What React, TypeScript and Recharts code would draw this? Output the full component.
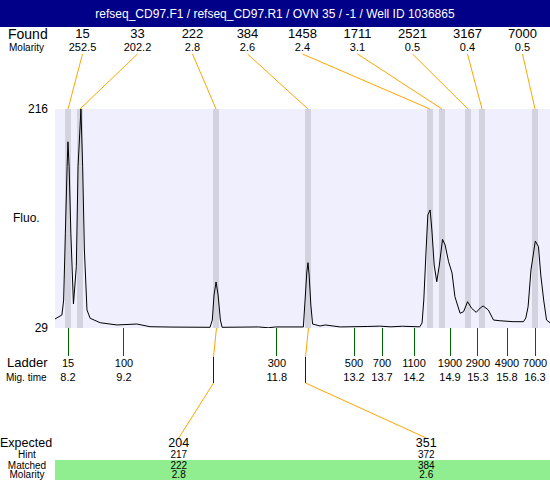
import React from 'react';
import { ComposedChart, Line, XAxis, YAxis, CartesianGrid, ReferenceLine } from 'recharts';

// electropherogram trace (migration time in min, fluorescence)
const migTime = [
  7.97, 8.09, 8.12, 8.15, 8.18, 8.195, 8.215, 8.245, 8.29, 8.34, 8.37, 8.42, 8.45, 8.48, 8.525, 8.58,
  8.755, 9.045, 9.39, 9.62, 10.0, 10.66, 10.7, 10.73, 10.765, 10.8, 10.84, 10.87, 11.5, 11.67, 11.8,
  12.28, 12.31, 12.34, 12.36, 12.38, 12.41, 12.44, 12.57, 12.66, 12.92, 13.4, 13.6, 13.8, 14.0, 14.3,
  14.34, 14.37, 14.41, 14.44, 14.48, 14.51, 14.55, 14.595, 14.64, 14.695, 14.74, 14.8, 14.86, 14.91,
  15.0, 15.06, 15.13, 15.2, 15.28, 15.35, 15.4, 15.49, 15.58, 15.69, 15.92, 16.1, 16.14, 16.18, 16.23,
  16.305, 16.36, 16.4, 16.45, 16.5, 16.56,
];
const fluo = [
  36.7, 40.1, 52.9, 110, 166.7, 188, 166.7, 110, 49.5, 81.4, 166.7, 216, 166.7, 95.6, 44.4, 37.3,
  33.5, 31.6, 32.4, 30.1, 29.8, 29.6, 35.8, 57.2, 68.3, 57.2, 35.8, 29.6, 29.9, 29.2, 29.9,
  29.9, 52.9, 76.8, 84.8, 74.3, 48.6, 32.4, 30.7, 31.6, 29.9, 30.3, 30.6, 30.0, 30.5, 30.0,
  33.3, 52.9, 95.6, 125.5, 129.8, 112.7, 82.8, 68.5, 82.8, 104.7, 99.9, 85.6, 76, 55.7,
  41.6, 42.9, 51.5, 45.8, 42.4, 46.1, 47.8, 44.4, 35.8, 35.2, 34.4, 34.4, 37.5, 47.2, 78.5,
  103.3, 98.4, 74.3, 52.9, 35.8, 33.5,
];

// found peaks
const peakTimes = [8.196, 8.404, 10.764, 12.36, 14.477, 14.686, 15.137, 15.38, 16.3];
const foundSizes = ['15', '33', '222', '384', '1458', '1711', '2521', '3167', '7000'];
const foundMolarity = ['252.5', '202.2', '2.8', '2.6', '2.4', '3.1', '0.5', '0.4', '0.5'];

// ladder
const ladderTimes = [8.196, 9.167, 11.82, 13.159, 13.645, 14.2, 14.825, 15.31, 15.814, 16.3];
const ladderSizes = ['15', '100', '300', '500', '700', '1100', '1900', '2900', '4900', '7000'];
const ladderTimeLabels = ['8.2', '9.2', '11.8', '13.2', '13.7', '14.2', '14.9', '15.3', '15.8', '16.3'];

// expected products
const hintTimes = [10.712, 12.308];
const expectedSizes = ['204', '351'];
const hintSizes = ['217', '372'];
const matchedSizes = ['222', '384'];
const matchedMolarity = ['2.8', '2.6'];

const yTicks = [29, 216];
const xDomain = [7.97, 16.56];

const data = migTime.map((t, i) => ({ t, f: fluo[i] }));

const W = 550;
const H = 480;
const PLOT_LEFT = 55;
const PLOT_W = 495;
const FONT = '"Liberation Sans", Arial, sans-serif';
const ORANGE = '#FFA500';

function FoundConnector({ viewBox, idx }: any) {
  if (!viewBox) return null;
  const lx = PLOT_LEFT + (PLOT_W * (idx + 0.5)) / foundSizes.length;
  return <line x1={lx} y1={54} x2={viewBox.x} y2={viewBox.y} stroke={ORANGE} strokeWidth={1} />;
}

function HintConnector({ viewBox, idx }: any) {
  if (!viewBox) return null;
  const x = Math.round(viewBox.x) + 0.5;
  const bottom = viewBox.y + viewBox.height;
  const ex = PLOT_LEFT + (PLOT_W * (idx + 0.5)) / expectedSizes.length;
  return (
    <g>
      <line x1={x + 3} y1={bottom} x2={x} y2={bottom + 29} stroke={ORANGE} />
      <line x1={x} y1={bottom + 29} x2={x} y2={bottom + 55} stroke="#0000FF" />
      <line x1={x} y1={bottom + 55} x2={ex} y2={438} stroke={ORANGE} />
    </g>
  );
}

function LadderTick({ x, y, payload }: any) {
  const i = ladderTimes.indexOf(payload.value);
  return (
    <g fontFamily={FONT} fontSize={11} fill="#000">
      <text x={x} y={y + 11} textAnchor="middle">{ladderSizes[i]}</text>
      <text x={x} y={y + 25} textAnchor="middle">{ladderTimeLabels[i]}</text>
    </g>
  );
}

export default function App() {
  const foundX = (i: number) => PLOT_LEFT + (PLOT_W * (i + 0.5)) / foundSizes.length;
  const expX = (i: number) => PLOT_LEFT + (PLOT_W * (i + 0.5)) / expectedSizes.length;
  return (
    <div style={{ position: 'fixed', left: 0, top: 0, width: W, height: H, background: '#fff' }}>
      <ComposedChart width={W} height={H} data={data} margin={{ top: 109, right: 0, bottom: 92, left: 0 }}>
        <CartesianGrid horizontal={false} vertical={false} fill="#EFEFFD" stroke="none" />
        <XAxis
          dataKey="t"
          type="number"
          domain={xDomain}
          allowDataOverflow
          ticks={ladderTimes}
          interval={0}
          height={60}
          tickSize={28}
          tickMargin={0}
          axisLine={false}
          tickLine={{ stroke: '#006400', shapeRendering: 'crispEdges' }}
          tick={<LadderTick />}
        />
        <YAxis
          type="number"
          domain={[29, 216]}
          allowDataOverflow
          ticks={yTicks}
          width={55}
          tickSize={0}
          tickMargin={7}
          axisLine={false}
          tickLine={false}
          tick={{ fontSize: 12, fill: '#000', fontFamily: FONT }}
        />
        {peakTimes.map((t, i) => (
          <ReferenceLine
            key={'p' + i}
            x={t}
            stroke="#D3D3DF"
            strokeWidth={6}
            shapeRendering="crispEdges"
            label={<FoundConnector idx={i} />}
          />
        ))}
        {hintTimes.map((t, i) => (
          <ReferenceLine key={'h' + i} x={t} stroke="none" label={<HintConnector idx={i} />} />
        ))}
        <Line
          type="linear"
          dataKey="f"
          stroke="#000"
          strokeWidth={1}
          dot={false}
          isAnimationActive={false}
        />
      </ComposedChart>
      <svg
        width={W}
        height={H}
        style={{ position: 'absolute', left: 0, top: 0, pointerEvents: 'none' }}
        fontFamily={FONT}
      >
        <rect x={0} y={0} width={W} height={27} fill="#000088" />
        <text x={275} y={18} textAnchor="middle" fontSize={12} fill="#fff">
          refseq_CD97.F1 / refseq_CD97.R1 / OVN 35 / -1 / Well ID 1036865
        </text>
        <text x={8} y={39} fontSize={14}>Found</text>
        <text x={9} y={51} fontSize={10}>Molarity</text>
        {foundSizes.map((s, i) => (
          <text key={'fs' + i} x={foundX(i)} y={38} fontSize={13} textAnchor="middle">{s}</text>
        ))}
        {foundMolarity.map((s, i) => (
          <text key={'fm' + i} x={foundX(i)} y={51} fontSize={11} textAnchor="middle">{s}</text>
        ))}
        <text x={13} y={222} fontSize={12}>Fluo.</text>
        <text x={7} y={367} fontSize={13}>Ladder</text>
        <text x={6} y={381} fontSize={10}>Mig. time</text>

        <rect x={55} y={460} width={495} height={20} fill="#90EE90" />
        <text x={0} y={447} fontSize={12.5}>Expected</text>
        <text x={27} y={458} fontSize={10} textAnchor="middle">Hint</text>
        <text x={27} y={469} fontSize={10} textAnchor="middle">Matched</text>
        <text x={27} y={478} fontSize={10} textAnchor="middle">Molarity</text>
        {expectedSizes.map((s, i) => (
          <g key={'e' + i}>
            <text x={expX(i)} y={447} fontSize={12.5} textAnchor="middle">{s}</text>
            <text x={expX(i)} y={458} fontSize={10} textAnchor="middle">{hintSizes[i]}</text>
            <text x={expX(i)} y={469} fontSize={10} textAnchor="middle">{matchedSizes[i]}</text>
            <text x={expX(i)} y={478} fontSize={10} textAnchor="middle">{matchedMolarity[i]}</text>
          </g>
        ))}
      </svg>
    </div>
  );
}
